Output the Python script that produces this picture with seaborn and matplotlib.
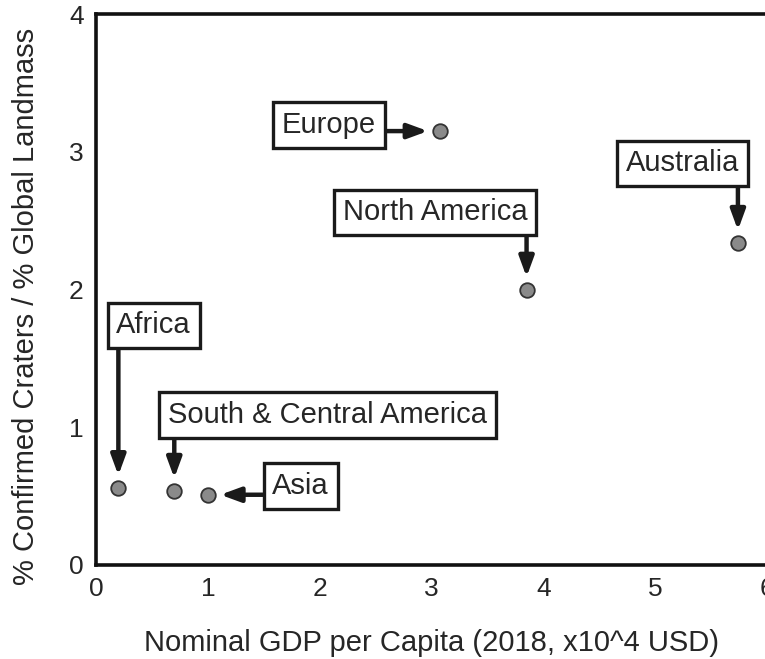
import matplotlib
matplotlib.use("Agg")
import matplotlib.pyplot as plt
from matplotlib.ticker import MultipleLocator
import seaborn as sns
import pandas as pd

# Continental regions and their values
regions = ["Africa", "South & Central America", "Asia", "Europe", "North America", "Australia"]
gdp_per_capita = [0.20, 0.70, 1.00, 3.08, 3.85, 5.74]   # nominal GDP per capita, x10^4 USD (2018)
crater_ratio = [0.56, 0.54, 0.51, 3.15, 2.00, 2.34]     # % confirmed craters / % global landmass

x_ticks = [0, 1, 2, 3, 4, 5, 6]
y_ticks = [0, 1, 2, 3, 4]

# Label box centres (data coords) and arrow direction for each region
label_layout = {
    "Africa": ((0.516, 1.739), "v"),
    "South & Central America": ((2.072, 1.089), "v"),
    "Asia": ((1.830, 0.574), "h"),
    "Europe": ((2.085, 3.194), "h"),
    "North America": ((3.031, 2.559), "v"),
    "Australia": ((5.247, 2.915), "v"),
}

sns.set_theme(style="white")
plt.rcParams["font.family"] = ["Liberation Sans", "DejaVu Sans"]

TEXT = "#262626"

fig = plt.figure(figsize=(7.65, 6.59), dpi=100)
# the right edge of the frame runs just past the canvas edge
ax = fig.add_axes([96 / 765, 94 / 659, 671 / 765, 551 / 659])

df = pd.DataFrame({"region": regions, "gdp": gdp_per_capita, "ratio": crater_ratio})
sns.scatterplot(data=df, x="gdp", y="ratio", ax=ax, s=110, color="#8a8a8a",
                edgecolor="#333333", linewidth=1.3, zorder=3, legend=False)

for name, gx, cy in zip(df["region"], df["gdp"], df["ratio"]):
    (lx, ly), direction = label_layout[name]
    start = (gx, ly) if direction == "v" else (lx, cy)
    ax.annotate("", xy=(gx, cy), xytext=start, zorder=2,
                arrowprops=dict(arrowstyle="-|>,head_length=0.6,head_width=0.22",
                                mutation_scale=20, lw=3.2, color="#1a1a1a",
                                shrinkA=0, shrinkB=9))
    ax.text(lx, ly, name, ha="center", va="center", fontsize=21, color=TEXT, zorder=4,
            bbox=dict(boxstyle="square,pad=0.3", facecolor="white",
                      edgecolor="#1a1a1a", linewidth=2.4))

ax.set_xlim(x_ticks[0], x_ticks[-1])
ax.set_ylim(y_ticks[0], y_ticks[-1])
ax.set_xticks(x_ticks)
ax.set_yticks(y_ticks)
ax.yaxis.set_minor_locator(MultipleLocator(0.5))

ax.set_xlabel("Nominal GDP per Capita (2018, x10^4 USD)", fontsize=21, color=TEXT, labelpad=20)
ax.set_ylabel("% Confirmed Craters / % Global Landmass", fontsize=21, color=TEXT)
ax.yaxis.set_label_coords(-0.083, 0.47)

ax.tick_params(axis="both", which="both", direction="in", length=5, width=1.3,
               color="#1a1a1a", labelsize=19, labelcolor=TEXT, pad=9)
ax.tick_params(axis="y", which="minor", length=5)
ax.tick_params(axis="x", top=False)
ax.tick_params(axis="y", right=False)

for side in ax.spines.values():
    side.set_linewidth(2.6)
    side.set_color("#111111")

fig.savefig("out.png", dpi=100, facecolor="white")
